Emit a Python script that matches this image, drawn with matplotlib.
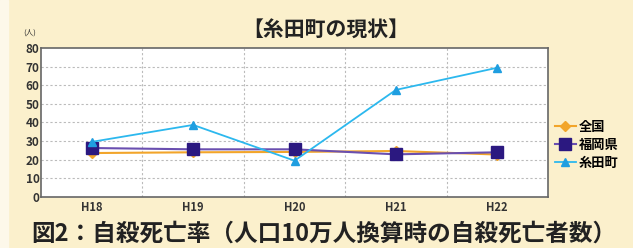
import matplotlib.pyplot as plt
import matplotlib.patches as mpatches

plt.rcParams['font.family'] = ['Noto Sans CJK JP', 'DejaVu Sans']

years = ['H18', 'H19', 'H20', 'H21', 'H22']
zenkoku = [23.6, 24.0, 24.2, 24.7, 22.8]
fukuoka = [26.3, 25.6, 25.6, 22.9, 24.0]
itoda = [29.6, 38.7, 19.5, 57.5, 69.4]

bg = '#fbf0cc'
fig = plt.figure(figsize=(6.33, 2.48), dpi=100)
fig.patch.set_facecolor(bg)
# white strip on the left edge
fig.add_artist(mpatches.Rectangle((0, 0), 8 / 633, 1, transform=fig.transFigure,
                                  color='#fdf8ea', zorder=0))

ax = fig.add_axes([41 / 633, 51 / 248, 507 / 633, 149 / 248])
ax.set_facecolor('white')
x = range(len(years))

ax.plot(x, zenkoku, color='#f2a52a', marker='D', markersize=5, lw=1.5, label='全国', zorder=3)
ax.plot(x, fukuoka, color='#6a4fb0', marker='s', markersize=8, lw=1.5,
        markerfacecolor='#2b1880', markeredgecolor='#2b1880', label='福岡県', zorder=4)
ax.plot(x, itoda, color='#2cb8ee', marker='^', markersize=6, lw=1.3,
        markerfacecolor='#1f9ee0', markeredgecolor='#1f9ee0', label='糸田町', zorder=5)

ax.set_xlim(-0.5, 4.5)
ax.set_ylim(0, 80)
ax.set_yticks(range(0, 81, 10))
ax.set_xticks(list(x))
ax.set_xticklabels(years, fontweight='bold', fontsize=8, color='#333333')
for t in ax.get_yticklabels():
    t.set_fontweight('bold')
    t.set_fontsize(8.5)
    t.set_color('#333333')
ax.tick_params(length=0, pad=1)
ax.tick_params(axis='x', pad=3)

for y in range(10, 80, 10):
    ax.axhline(y, color='#bbbbbb', lw=0.8, ls=(0, (2, 2)), zorder=1)
for b in [0.5, 1.5, 2.5, 3.5]:
    ax.axvline(b, color='#bbbbbb', lw=0.8, ls=(0, (2, 2)), zorder=1)
for s in ax.spines.values():
    s.set_color('#666666')
    s.set_linewidth(1.2)

leg = ax.legend(loc='upper left', bbox_to_anchor=(0.995, 0.58), frameon=False,
                prop={'weight': 'bold', 'size': 9.5}, handlelength=1.6,
                handletextpad=0.2, labelspacing=0.3, borderpad=0.2)

fig.text(326 / 633, 1 - 30 / 248, '【糸田町の現状】', ha='center', va='center',
         fontsize=15, fontweight='bold', color='#222222')
fig.text(30 / 633, 1 - 33 / 248, '(人)', ha='center', va='center', fontsize=5.5,
         color='#333333')
fig.text(324 / 633, 1 - 234 / 248, '図2：自殺死亡率（人口10万人換算時の自殺死亡者数）',
         ha='center', va='center', fontsize=17, fontweight='bold', color='#222222')

fig.savefig('out.png', dpi=100, facecolor=bg)
